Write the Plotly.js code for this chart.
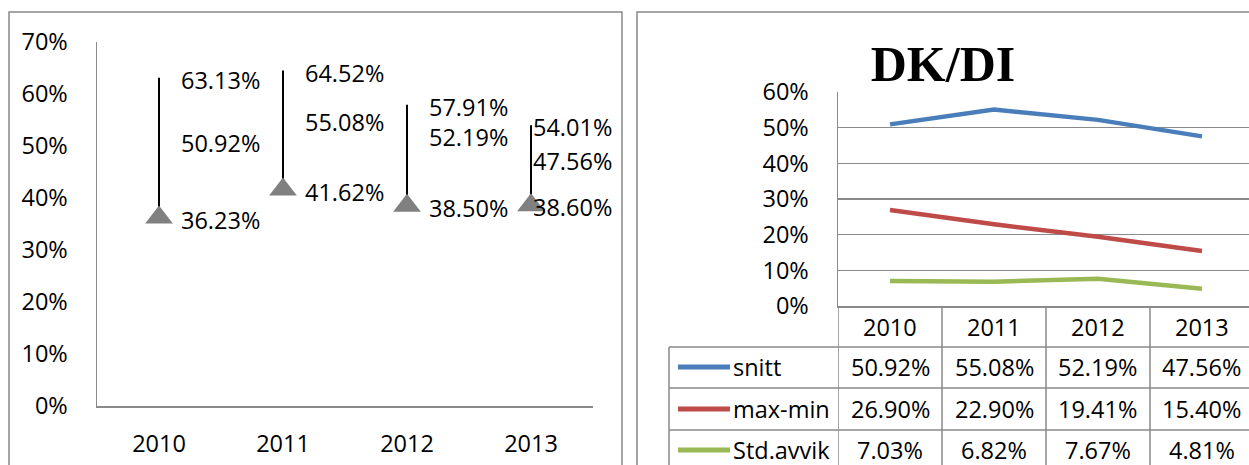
<!DOCTYPE html>
<html>
<head>
<meta charset="utf-8">
<script src="https://cdn.plot.ly/plotly-3.0.1.min.js"></script>
<style>
  html, body { margin: 0; padding: 0; background: #fff; }
  #myPlot { width: 1249px; height: 465px; }
</style>
</head>
<body>
<div id="myPlot"></div>
<script>
const years = ["2010", "2011", "2012", "2013"];
const maxVals = [0.6313, 0.6452, 0.5791, 0.5401];
const avgVals = [0.5092, 0.5508, 0.5219, 0.4756];
const minVals = [0.3623, 0.4162, 0.3850, 0.3860];

const seriesNames = ["snitt", "max-min", "Std.avvik"];
const snitt = [0.5092, 0.5508, 0.5219, 0.4756];
const maxMin = [0.2690, 0.2290, 0.1941, 0.1540];
const stdAvvik = [0.0703, 0.0682, 0.0767, 0.0481];

const W = 1249, H = 465;
const fx = p => p / W;
const fy = p => 1 - p / H;
const pct = v => (v * 100).toFixed(2) + "%";

const FONT = "Open Sans, Noto Sans, sans-serif";
const FS = 23.5;
const GRID = "#8a8a8a";
const colors = ["#4a7ebb", "#be4b48", "#98b954"];
const rightSeries = [snitt, maxMin, stdAvvik];

// left chart: stems from max to min, triangle at min
let stemX = [], stemY = [];
years.forEach((yr, i) => {
  stemX.push(yr, yr, null);
  stemY.push(maxVals[i], minVals[i], null);
});

let data = [
  {
    x: stemX, y: stemY, mode: "lines", xaxis: "x", yaxis: "y",
    line: {color: "#000", width: 2}, hoverinfo: "skip"
  },
  {
    x: years, y: minVals, mode: "markers", xaxis: "x", yaxis: "y",
    marker: {symbol: "triangle-up", size: 24, color: "#808080"}
  }
];

rightSeries.forEach((s, k) => {
  data.push({
    x: years, y: s, name: seriesNames[k], mode: "lines",
    xaxis: "x2", yaxis: "y2",
    line: {color: colors[k], width: 4.5}
  });
});

let annotations = [];
// value labels on the left chart
years.forEach((yr, i) => {
  [maxVals[i], avgVals[i], minVals[i]].forEach(v => {
    annotations.push({
      xref: "x", yref: "y", x: i, y: v, text: pct(v),
      xanchor: "left", yanchor: "middle", showarrow: false,
      xshift: i < 3 ? 20 : 0, yshift: -2,
      font: {family: FONT, size: FS, color: "#000"}
    });
  });
});

// data table under the right chart
const headerY = 327;
const rowY = [367, 409, 450];
const rowLines = [347, 388, 430];
let shapes = [
  // panel borders
  {type: "rect", xref: "paper", yref: "paper", x0: fx(9), x1: fx(622), y0: fy(520), y1: fy(12),
   line: {color: "#888", width: 1.5}},
  {type: "rect", xref: "paper", yref: "paper", x0: fx(637), x1: fx(1300), y0: fy(520), y1: fy(12),
   line: {color: "#888", width: 1.5}}
];

for (let i = 0; i <= years.length; i++) {
  shapes.push({type: "line", xref: "x2", yref: "paper", x0: i - 0.5, x1: i - 0.5,
    y0: fy(306), y1: fy(520), line: {color: GRID, width: 1.5}});
}
shapes.push({type: "line", xref: "paper", yref: "paper", x0: fx(669), x1: fx(669),
  y0: fy(347), y1: fy(520), line: {color: GRID, width: 1.5}});
rowLines.forEach(p => {
  shapes.push({type: "line", xref: "paper", yref: "paper", x0: fx(669), x1: 1,
    y0: fy(p), y1: fy(p), line: {color: GRID, width: 1.5}});
});

years.forEach((yr, i) => {
  annotations.push({
    xref: "x2", yref: "paper", x: i, y: fy(headerY), text: yr, showarrow: false,
    xanchor: "center", yanchor: "middle", font: {family: FONT, size: FS, color: "#000"}
  });
});

rightSeries.forEach((s, k) => {
  shapes.push({type: "line", xref: "paper", yref: "paper", x0: fx(678), x1: fx(730),
    y0: fy(rowY[k]), y1: fy(rowY[k]), line: {color: colors[k], width: 5}});
  annotations.push({
    xref: "paper", yref: "paper", x: fx(731), y: fy(rowY[k]), text: seriesNames[k],
    showarrow: false, xanchor: "left", yanchor: "middle",
    font: {family: FONT, size: FS, color: "#000"}
  });
  s.forEach((v, i) => {
    annotations.push({
      xref: "x2", yref: "paper", x: i, y: fy(rowY[k]), text: pct(v), showarrow: false,
      xanchor: "center", yanchor: "middle", font: {family: FONT, size: FS, color: "#000"}
    });
  });
});

const layout = {
  width: W, height: H,
  margin: {l: 0, r: 0, t: 0, b: 0},
  paper_bgcolor: "#fff", plot_bgcolor: "rgba(0,0,0,0)",
  showlegend: false,
  font: {family: FONT, size: FS, color: "#000"},
  title: {
    text: "DK/DI", x: fx(943), y: fy(63), xanchor: "center", yanchor: "middle",
    font: {family: "Liberation Serif, DejaVu Serif, serif", size: 50, color: "#000", weight: "bold"}
  },
  xaxis: {
    domain: [fx(97), fx(593)], type: "category", range: [-0.5, 3.5],
    showline: true, linecolor: "#8a8a8a", linewidth: 1.5, showgrid: false, zeroline: false,
    ticks: "outside", ticklen: 16, tickcolor: "rgba(0,0,0,0)",
    tickfont: {family: FONT, size: FS, color: "#000"}, fixedrange: true
  },
  yaxis: {
    domain: [fy(406), fy(42)], range: [0, 0.7], dtick: 0.1, tickformat: ".0%",
    showline: true, linecolor: "#8a8a8a", linewidth: 1.5, showgrid: false, zeroline: false,
    ticks: "outside", ticklen: 23, tickcolor: "rgba(0,0,0,0)",
    tickfont: {family: FONT, size: FS, color: "#000"}, fixedrange: true
  },
  xaxis2: {
    domain: [fx(838), 1], type: "category", range: [-0.5, 3.452], anchor: "y2",
    showline: true, linecolor: GRID, linewidth: 1.5, showgrid: false, zeroline: false,
    showticklabels: false, ticks: "", fixedrange: true
  },
  yaxis2: {
    domain: [fy(306), fy(92)], range: [0, 0.6], dtick: 0.1, tickformat: ".0%", anchor: "x2",
    showline: true, linecolor: GRID, linewidth: 1.5,
    showgrid: true, gridcolor: GRID, gridwidth: 1.5, zeroline: false,
    ticks: "outside", ticklen: 23, tickcolor: "rgba(0,0,0,0)",
    tickfont: {family: FONT, size: FS, color: "#000"}, fixedrange: true
  },
  shapes: shapes,
  annotations: annotations
};

Plotly.newPlot("myPlot", data, layout, {displayModeBar: false, staticPlot: true});
</script>
</body>
</html>
